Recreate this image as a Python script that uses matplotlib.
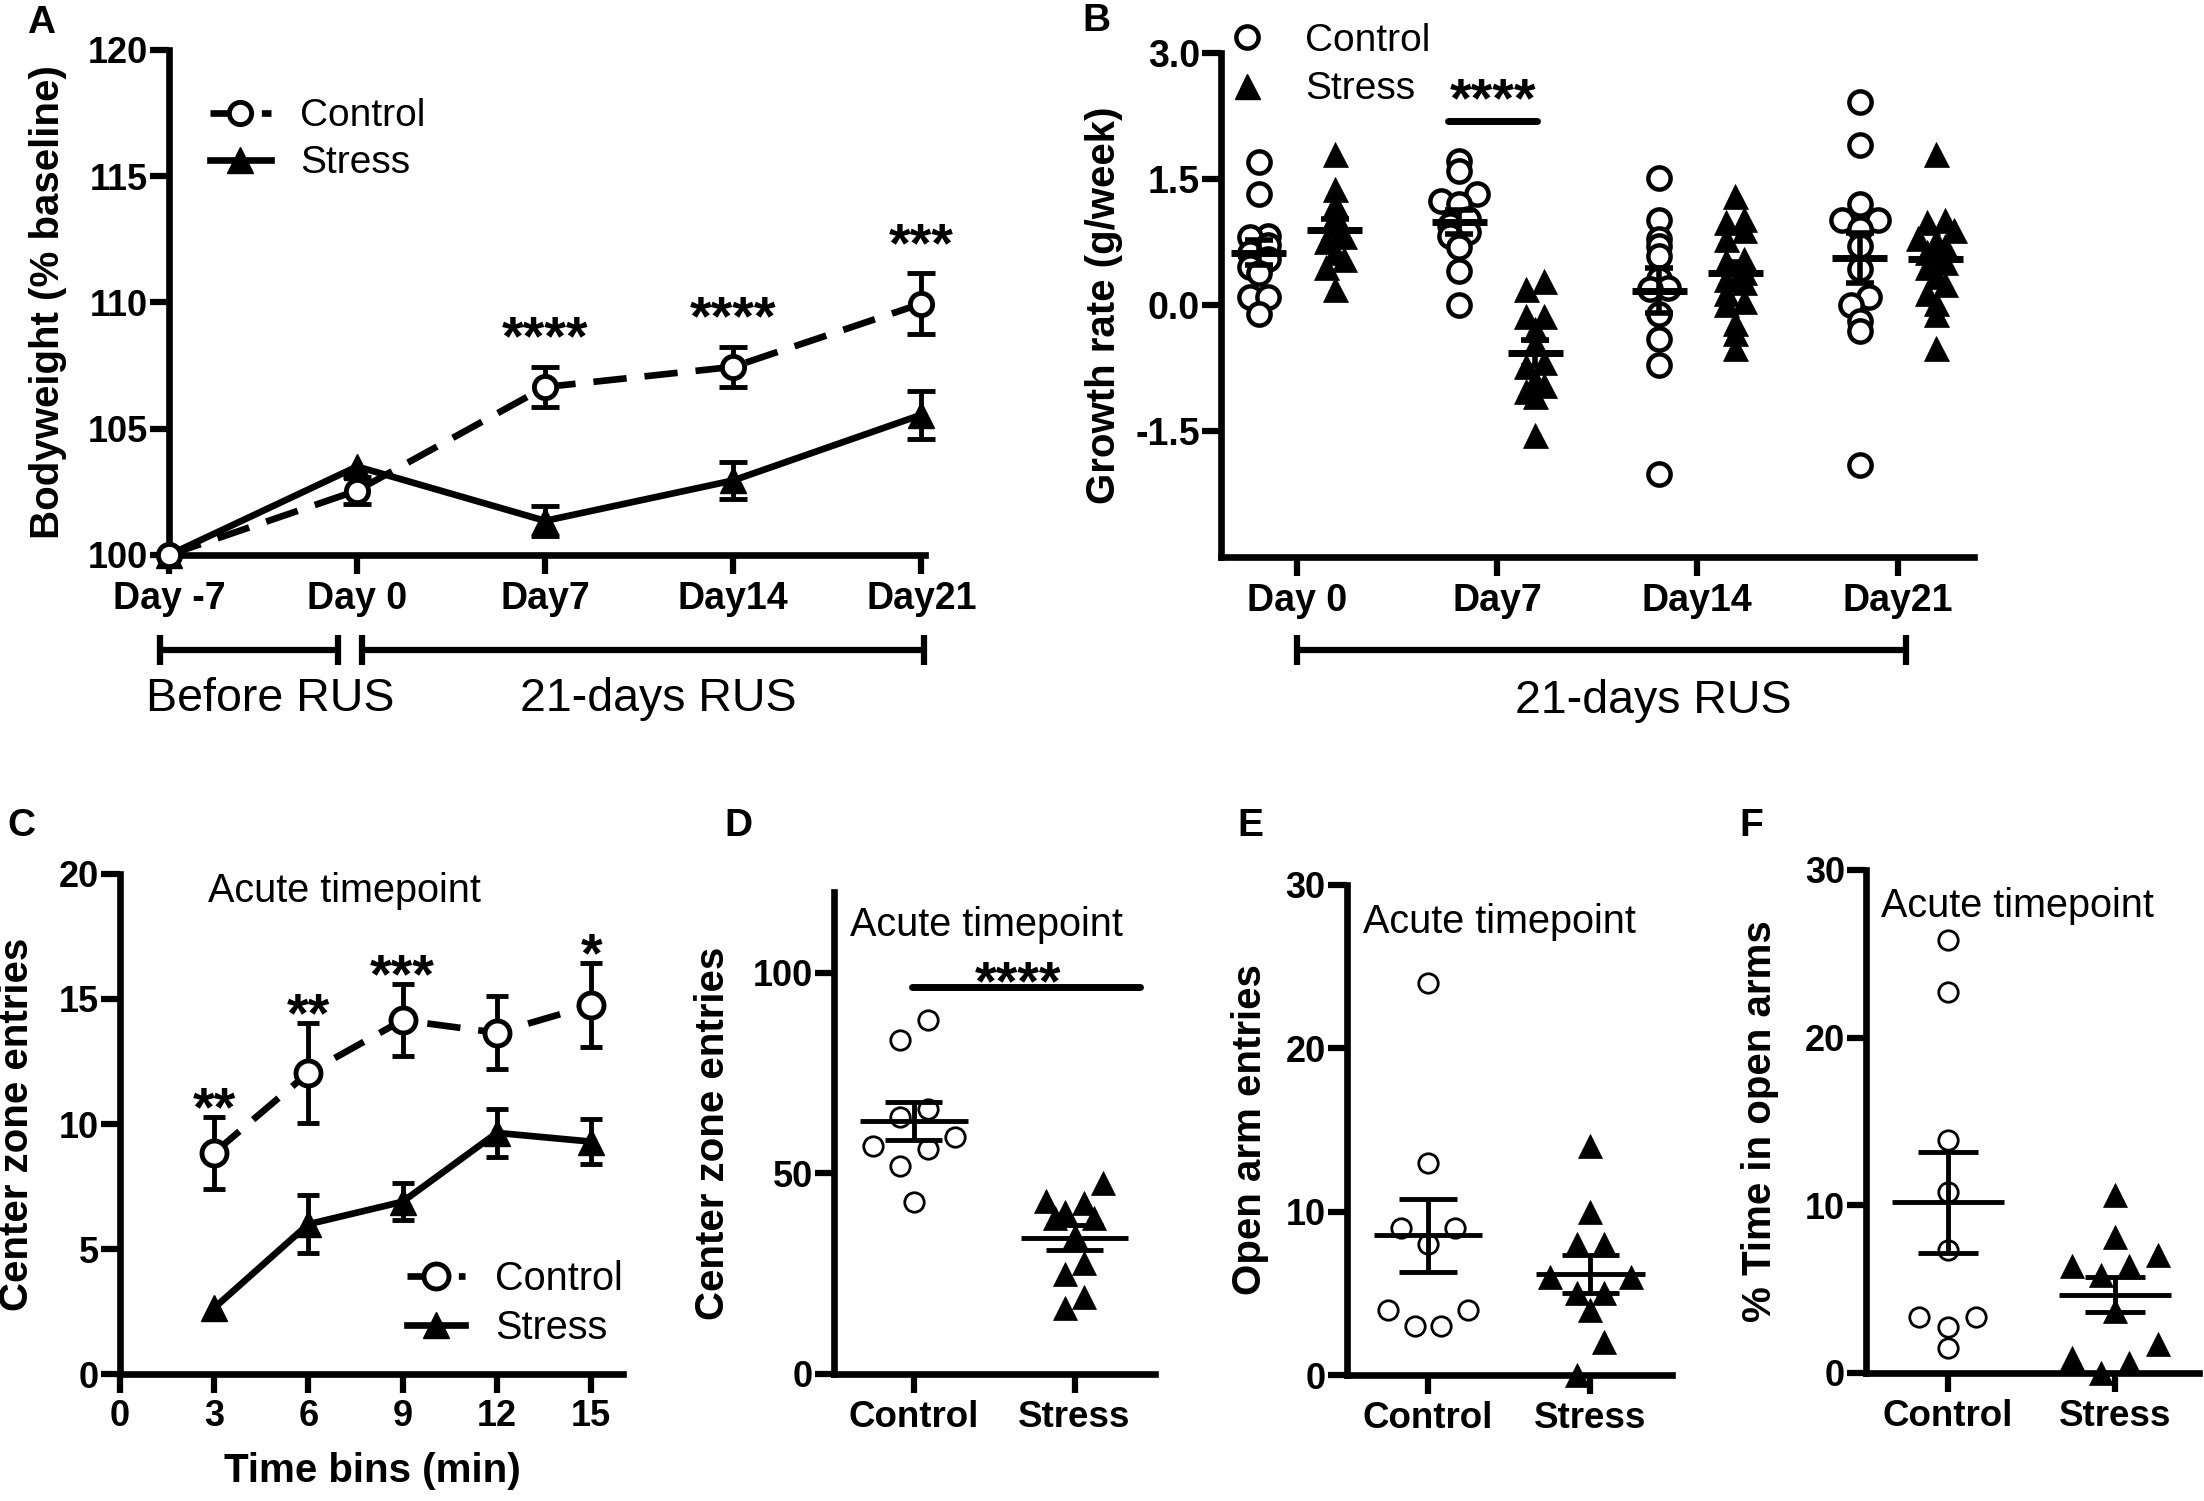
import numpy as np
import matplotlib
matplotlib.use('Agg')
import matplotlib.pyplot as plt
from matplotlib.lines import Line2D
from matplotlib.transforms import blended_transform_factory

plt.rcParams['font.family'] = ['Liberation Sans', 'DejaVu Sans']

# ---------------- data ----------------
# Panel A: bodyweight (% baseline), mean and SEM
days_A = ['Day -7', 'Day 0', 'Day7', 'Day14', 'Day21']
control_A = [100.0, 102.55, 106.65, 107.45, 109.95]
control_A_sem = [0.0, 0.55, 0.8, 0.8, 1.2]
stress_A = [100.0, 103.5, 101.35, 102.95, 105.55]
stress_A_sem = [0.0, 0.0, 0.6, 0.75, 0.95]
stars_A = ['', '', '****', '****', '***']

# Panel B: growth rate (g/week), individual animals
days_B = ['Day 0', 'Day7', 'Day14', 'Day21']
control_B_day0 = [1.71, 1.32, 0.83, 0.81, 0.72, 0.62, 0.55, 0.45, 0.38, 0.10, 0.10, -0.11]
stress_B_day0 = [1.80, 1.39, 1.20, 1.08, 0.95, 0.83, 0.77, 0.63, 0.55, 0.45, 0.19]
control_B_day7 = [1.72, 1.60, 1.32, 1.24, 1.21, 1.03, 0.95, 0.87, 0.83, 0.69, 0.41, 0.00]
stress_B_day7 = [0.29, 0.19, -0.13, -0.13, -0.29, -0.45, -0.68, -0.73, -0.89, -0.95, -1.02, -1.08, -1.55]
control_B_day14 = [1.51, 1.01, 0.79, 0.71, 0.59, 0.31, 0.21, 0.19, -0.11, -0.40, -0.71, -2.01]
stress_B_day14 = [1.30, 1.03, 0.99, 0.89, 0.79, 0.55, 0.53, 0.39, 0.31, 0.27, 0.15, 0.05, 0.01, -0.21, -0.33, -0.51]
control_B_day21 = [2.42, 1.91, 1.21, 1.01, 1.01, 0.91, 0.71, 0.43, 0.10, 0.00, -0.19, -0.31, -1.91]
stress_B_day21 = [1.80, 1.02, 0.99, 0.89, 0.80, 0.77, 0.70, 0.63, 0.51, 0.45, 0.35, 0.25, 0.15, 0.03, -0.11, -0.51]
control_B = [control_B_day0, control_B_day7, control_B_day14, control_B_day21]
stress_B = [stress_B_day0, stress_B_day7, stress_B_day14, stress_B_day21]
stars_B = ['', '****', '', '']

# Panel C: center zone entries per time bin, mean and SEM
time_C = [3, 6, 9, 12, 15]
control_C = [8.85, 12.05, 14.15, 13.65, 14.75]
control_C_sem = [1.43, 2.0, 1.45, 1.45, 1.67]
stress_C = [2.65, 6.0, 6.9, 9.65, 9.3]
stress_C_sem = [0.0, 1.15, 0.75, 0.95, 0.9]
stars_C = ['**', '**', '***', '', '*']

# Panels D-F: individual animals
groups = ['Control', 'Stress']
control_D = [88.1, 83.1, 65.9, 63.9, 59.0, 56.8, 55.9, 51.7, 42.8]
stress_D = [47.6, 42.6, 43.0, 40.3, 38.7, 38.7, 34.2, 27.6, 24.8, 19.2, 16.4]
control_E = [24, 13, 9, 9, 8, 4, 4, 3, 3]
stress_E = [14, 10, 8, 8, 6, 6, 5, 5, 4, 2, 0]
control_F = [25.8, 22.7, 13.9, 10.8, 7.35, 3.35, 3.35, 2.7, 1.5]
stress_F = [10.6, 8.1, 7.0, 6.35, 6.35, 5.8, 3.7, 1.7, 0.9, 0.6, 0.0]

# ---------------- helpers ----------------
def style_axes(ax):
    ax.spines['top'].set_visible(False)
    ax.spines['right'].set_visible(False)
    for s in ('left', 'bottom'):
        ax.spines[s].set_linewidth(4.8)
        ax.spines[s].set_capstyle('projecting')
    ax.tick_params(axis='both', which='major', direction='out', length=14, width=4.5, pad=2)


def draw_err(ax, x, y, e, capsize, lw):
    x = np.asarray(x, float)
    y = np.asarray(y, float)
    e = np.asarray(e, float)
    m = e > 0
    ebc = ax.errorbar(x[m], y[m], yerr=e[m], fmt='none', ecolor='black', elinewidth=lw,
                      capsize=capsize, capthick=lw, zorder=2)
    for art in ebc.lines[1] + ebc.lines[2]:
        art.set_clip_on(False)


def bin_offsets(vals, binh, step):
    vals = np.asarray(vals, float)
    keys = np.floor(vals / binh + 1e-9).astype(int)
    off = np.zeros(len(vals))
    for k in np.unique(keys):
        idx = np.where(keys == k)[0]
        idx = idx[np.argsort(vals[idx], kind='stable')]
        n = len(idx)
        pos = (np.arange(n) - (n - 1) / 2.0) * step
        order = np.argsort(np.abs(pos) + np.arange(n) * 1e-6, kind='stable')
        for j, p in zip(idx, pos[order]):
            off[j] = p
    return off


def mean_sem(vals):
    v = np.asarray(vals, float)
    return v.mean(), v.std(ddof=1) / np.sqrt(len(v))


def stars(ax, x, y, s, off, size=40):
    ax.annotate(s, xy=(x, y), xytext=(0, off), textcoords='offset points', ha='center',
                va='baseline', fontsize=size, fontweight='bold', annotation_clip=False)


def bracket(ax, x0, x1, y, h, lw=4.5):
    tr = blended_transform_factory(ax.transData, ax.transAxes)
    ax.plot([x0, x1], [y, y], color='black', lw=lw, transform=tr, clip_on=False,
            solid_capstyle='butt')
    for xx in (x0, x1):
        ax.plot([xx, xx], [y - h, y + h], color='black', lw=lw, transform=tr, clip_on=False,
                solid_capstyle='butt')


def group_scatter(ax, cx, vals, marker, binh, step, ms, mew, mean_half, cap_half, lw_mean, lw_err):
    xs = cx + bin_offsets(vals, binh, step)
    if marker == 'o':
        ax.plot(xs, vals, ls='none', marker='o', ms=ms, mfc='white', mec='black', mew=mew,
                zorder=3, clip_on=False)
    else:
        ax.plot(xs, vals, ls='none', marker='^', ms=ms, mfc='black', mec='black', mew=0.5,
                zorder=3, clip_on=False)
    m, s = mean_sem(vals)
    ax.hlines(m, cx - mean_half, cx + mean_half, color='black', lw=lw_mean, zorder=5)
    ax.vlines(cx, m - s, m + s, color='black', lw=lw_err, zorder=5)
    ax.hlines([m - s, m + s], cx - cap_half, cx + cap_half, color='black', lw=lw_err, zorder=5)


fig = plt.figure(figsize=(22.04, 15.01), dpi=100)

# ---------------- Panel A ----------------
axA = fig.add_axes([0.0767, 0.6303, 0.343, 0.3364])
style_axes(axA)
xA = np.arange(len(days_A))
draw_err(axA, xA, stress_A, stress_A_sem, 10, 3.5)
draw_err(axA, xA, control_A, control_A_sem, 10, 3.5)
lS, = axA.plot(xA, stress_A, color='black', lw=4.8, marker='^', ms=19, mfc='black', mec='black',
               zorder=3, clip_on=False, label='Stress')
lC, = axA.plot(xA, control_A, color='black', lw=4.8, ls=(0, (5, 2.7)), marker='o', ms=16,
               mfc='white', mec='black', mew=3.5, zorder=4, clip_on=False, label='Control')
axA.set_xlim(0, 4.02)
axA.set_ylim(100, 120)
axA.set_yticks([100, 105, 110, 115, 120], labels=['100', '105', '110', '115', '120'],
               fontsize=26, fontweight='bold')
axA.set_xticks(xA, labels=days_A, fontsize=27, fontweight='bold')
axA.tick_params(axis='y', pad=1)
axA.tick_params(axis='x', pad=5)
axA.set_ylabel('Bodyweight (% baseline)', fontsize=29, fontweight='bold')
axA.yaxis.set_label_coords(-0.135, 0.5)
for i, s in enumerate(stars_A):
    if s:
        stars(axA, xA[i], control_A[i] + control_A_sem[i], s, 9)
axA.legend(handles=[lC, lS], loc='center left', bbox_to_anchor=(0.054, 0.822), frameon=False,
           fontsize=28, handlelength=1.57, handletextpad=0.75, labelspacing=0.28,
           borderpad=0, borderaxespad=0)
bracket(axA, -0.05, 0.9, -0.188, 0.03)
bracket(axA, 1.027, 4.016, -0.188, 0.03)
trA = blended_transform_factory(axA.transData, axA.transAxes)
axA.text(0.537, -0.285, 'Before RUS', transform=trA, ha='center', va='center', fontsize=33.5)
axA.text(2.6, -0.285, '21-days RUS', transform=trA, ha='center', va='center', fontsize=33.5)

# ---------------- Panel B ----------------
axB = fig.add_axes([0.5539, 0.629, 0.3416, 0.3354])
style_axes(axB)
for i in range(len(days_B)):
    group_scatter(axB, i - 0.19, control_B[i], 'o', 0.15, 0.09, 16, 3.2, 0.1375, 0.07, 5, 4)
    group_scatter(axB, i + 0.19, stress_B[i], '^', 0.15, 0.09, 18, 0, 0.1375, 0.07, 5, 4)
axB.set_xlim(-0.38, 3.38)
axB.set_ylim(-3, 3)
axB.set_yticks([-1.5, 0, 1.5, 3.0], labels=['-1.5', '0.0', '1.5', '3.0'], fontsize=27,
               fontweight='bold')
axB.set_xticks(range(len(days_B)), labels=days_B, fontsize=27, fontweight='bold')
axB.tick_params(axis='y', pad=1)
axB.tick_params(axis='x', pad=5)
axB.set_ylabel('Growth rate (g/week)', fontsize=29, fontweight='bold')
axB.yaxis.set_label_coords(-0.13, 0.5)
for i, s in enumerate(stars_B):
    if s:
        axB.plot([i - 0.243, i + 0.2], [2.2, 2.2], color='black', lw=5, solid_capstyle='round')
        stars(axB, i - 0.018, 2.2, s, 3)
hC = Line2D([], [], ls='none', marker='o', ms=16, mfc='white', mec='black', mew=3.2)
hS = Line2D([], [], ls='none', marker='^', ms=18, mfc='black', mec='black')
axB.legend(handles=[hC, hS], labels=['Control', 'Stress'], loc='center left',
           bbox_to_anchor=(0.009, 0.977), frameon=False, fontsize=28, handlelength=1.0,
           handletextpad=1.0, labelspacing=0.32, borderpad=0, borderaxespad=0)
bracket(axB, 0, 3.04, -0.185, 0.03)
trB = blended_transform_factory(axB.transData, axB.transAxes)
axB.text(1.78, -0.286, '21-days RUS', transform=trB, ha='center', va='center', fontsize=33.5)

# ---------------- Panel C ----------------
axC = fig.add_axes([0.0543, 0.0843, 0.2282, 0.3336])
style_axes(axC)
draw_err(axC, time_C, stress_C, stress_C_sem, 8, 3.5)
draw_err(axC, time_C, control_C, control_C_sem, 8, 3.5)
lS2, = axC.plot(time_C, stress_C, color='black', lw=4.8, marker='^', ms=19, mfc='black',
                mec='black', zorder=3, clip_on=False)
lC2, = axC.plot(time_C, control_C, color='black', lw=4.8, ls=(0, (5, 2.7)), marker='o', ms=18,
                mfc='white', mec='black', mew=3.5, zorder=4, clip_on=False)
axC.set_xlim(0, 16)
axC.set_ylim(0, 20)
axC.set_xticks([0, 3, 6, 9, 12, 15], labels=['0', '3', '6', '9', '12', '15'], fontsize=26,
               fontweight='bold')
axC.set_yticks([0, 5, 10, 15, 20], labels=['0', '5', '10', '15', '20'], fontsize=26,
               fontweight='bold')
axC.tick_params(axis='y', pad=1)
axC.tick_params(axis='x', pad=4)
axC.set_xlabel('Time bins (min)', fontsize=29, fontweight='bold')
axC.xaxis.set_label_coords(0.503, -0.155)
axC.set_ylabel('Center zone entries', fontsize=29, fontweight='bold')
axC.yaxis.set_label_coords(-0.167, 0.5)
for i, s in enumerate(stars_C):
    if s:
        stars(axC, time_C[i], control_C[i] + control_C_sem[i], s, -6)
axC.text(2.8, 20.05, 'Acute timepoint', ha='left', va='top', fontsize=28.5)
axC.legend(handles=[lC2, lS2], labels=['Control', 'Stress'], loc='center left',
           bbox_to_anchor=(0.571, 0.142), frameon=False, fontsize=28.5, handlelength=1.47,
           handletextpad=0.75, labelspacing=0.28, borderpad=0, borderaxespad=0)

# ---------------- Panels D, E, F ----------------
def dot_panel(rect, ctrl, strs, ylim, yticks, ylabel, label_x, binh, step_c, step_s, txt_xy):
    ax = fig.add_axes(rect)
    style_axes(ax)
    group_scatter(ax, 0, ctrl, 'o', binh, step_c, 14, 2.0, 0.334, 0.178, 3.5, 3.5)
    group_scatter(ax, 1, strs, '^', binh, step_s, 17, 0, 0.334, 0.178, 3.5, 3.5)
    ax.set_xlim(-0.5, 1.5)
    ax.set_ylim(*ylim)
    ax.set_yticks(yticks, labels=[str(t) for t in yticks], fontsize=26, fontweight='bold')
    ax.set_xticks([0, 1], labels=groups, fontsize=26.5, fontweight='bold')
    ax.tick_params(axis='y', pad=1)
    ax.tick_params(axis='x', pad=5)
    ax.set_ylabel(ylabel, fontsize=29, fontweight='bold')
    ax.yaxis.set_label_coords(label_x, 0.5)
    ax.text(txt_xy[0], txt_xy[1], 'Acute timepoint', ha='left', va='top', fontsize=28.5)
    return ax

axD = dot_panel([0.3782, 0.0849, 0.1458, 0.3205], control_D, stress_D, (0, 120), [0, 50, 100],
                'Center zone entries', -0.316, 10, 0.17, 0.12, (-0.4, 116.6))
axD.plot([-0.01, 1.41], [96.4, 96.4], color='black', lw=5, solid_capstyle='round', clip_on=False)
stars(axD, 0.65, 96.4, '****', -8.5)

axE = dot_panel([0.611, 0.0839, 0.1475, 0.3266], control_E, stress_E, (0, 30), [0, 10, 20, 30],
                'Open arm entries', -0.24, 2.5, 0.165, 0.165, (-0.4, 28.9))

axF = dot_panel([0.8465, 0.0855, 0.1512, 0.3349], control_F, stress_F, (0, 30), [0, 10, 20, 30],
                '% Time in open arms', -0.26, 2.5, 0.17, 0.17, (-0.4, 29.0))
axF.set_xlim(-0.49, 1.5)

# ---------------- panel letters ----------------
for lab, x, y in [('A', 0.0186, 0.9847), ('B', 0.4973, 0.9857), ('C', 0.0096, 0.4497),
                  ('D', 0.3349, 0.4499), ('E', 0.5672, 0.4500), ('F', 0.7946, 0.4497)]:
    fig.text(x, y, lab, ha='center', va='center', fontsize=28, fontweight='bold')

fig.savefig('out.png', dpi=100)
